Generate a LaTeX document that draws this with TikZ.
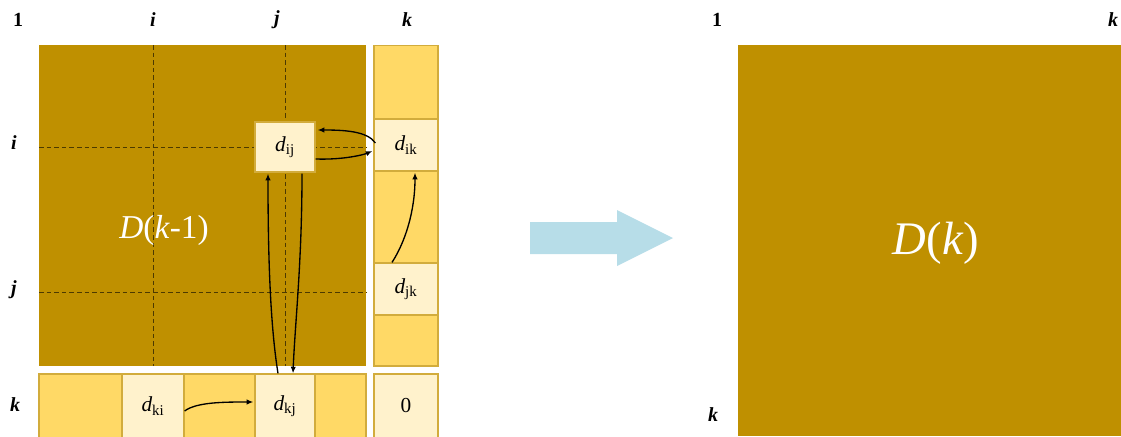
\documentclass[tikz,border=0pt]{standalone}
\usepackage{fontspec}
\setmainfont{Liberation Serif}
\usetikzlibrary{arrows.meta,calc}

\definecolor{darkgold}{RGB}{191,144,0}
\definecolor{lightgold}{RGB}{255,217,102}
\definecolor{creamy}{RGB}{255,242,204}
\definecolor{cellline}{RGB}{210,172,60}
\definecolor{arrowblue}{RGB}{183,221,232}

\begin{document}
\begin{tikzpicture}[x=0.75pt, y=-0.75pt, >={Latex[length=5pt,width=4pt]},
    cell/.style={draw=cellline, line width=0.9pt, fill=lightgold, inner sep=0pt},
    entry/.style={cell, fill=creamy, font=\fontsize{16}{18}\selectfont},
    idx/.style={font=\fontsize{15}{17}\selectfont\bfseries\itshape},
    link/.style={->, line width=1pt, black},
    grid/.style={line width=0.6pt, dash pattern=on 3.5pt off 2.2pt, black!60!darkgold}]
    \clip (0,0) rectangle (1121,436);

    % left: D(k-1) with row and column k
    \fill[darkgold] (39,45) rectangle (366,366);
    \draw[grid] (153,45) -- (153,366);
    \draw[grid] (285,45) -- (285,366);
    \draw[grid] (39,147) -- (366,147);
    \draw[grid] (39,292) -- (366,292);
    \node[text=white, font=\fontsize{25}{29}\selectfont] (dprev) at (164,230) {\textit{D}(\textit{k}-1)};

    \node[entry, minimum width=45pt, minimum height=37.5pt] (dij) at (285,147) {\textit{d}\textsubscript{ij}};

    \node[cell, minimum width=48pt, minimum height=54.75pt] (ck1) at (406,82) {};
    \node[entry, minimum width=48pt, minimum height=39pt] (dik) at (406,145) {\textit{d}\textsubscript{ik}};
    \node[cell, minimum width=48pt, minimum height=69pt] (ck2) at (406,217) {};
    \node[entry, minimum width=48pt, minimum height=39pt] (djk) at (406,289) {\textit{d}\textsubscript{jk}};
    \node[cell, minimum width=48pt, minimum height=38.25pt] (ck3) at (406,340.5) {};

    \node[cell, minimum width=62.25pt, minimum height=48pt] (rk1) at (80.5,406) {};
    \node[entry, minimum width=46.5pt, minimum height=48pt] (dki) at (153,406) {\textit{d}\textsubscript{ki}};
    \node[cell, minimum width=53.25pt, minimum height=48pt] (rk2) at (219.5,406) {};
    \node[entry, minimum width=45pt, minimum height=48pt] (dkj) at (285,406) {\textit{d}\textsubscript{kj}};
    \node[cell, minimum width=38.25pt, minimum height=48pt] (rk3) at (340.5,406) {};
    \node[entry, minimum width=48pt, minimum height=48pt] (dkk) at (406,406) {0};

    \node[idx, font=\fontsize{15}{17}\selectfont\bfseries] (c1) at (18,20) {1};
    \node[idx] (ci) at (153,20) {i};
    \node[idx] (cj) at (277,20) {j};
    \node[idx] (ck) at (407,20) {k};
    \node[idx] (ri) at (14,143) {i};
    \node[idx] (rj) at (14,290) {j};
    \node[idx] (rk) at (15,405) {k};

    \draw[link] ($(dik.west)+(2,-2)$) .. controls ($(dik.west)+(-6,-14)$) and ($(dij.east)+(28,-17)$) .. ($(dij.east)+(2,-17)$);
    \draw[link] ($(dij.east)+(0,12)$) .. controls ($(dij.east)+(30,13)$) and ($(dik.west)+(-8,9)$) .. ($(dik.west)+(-1,6)$);
    \draw[link] ($(dkj.north)+(-7,0)$) .. controls ($(dkj.north)+(-15,-50)$) and ($(dij.south)+(-17,80)$) .. ($(dij.south)+(-17,1)$);
    \draw[link] ($(dij.south)+(17,1)$) .. controls ($(dij.south)+(17,90)$) and ($(dkj.north)+(10,-50)$) .. ($(dkj.north)+(8,0)$);
    \draw[link] ($(djk.north)+(-14,0)$) .. controls ($(djk.north)+(-1,-20)$) and ($(dik.south)+(9,40)$) .. ($(dik.south)+(9,1)$);
    \draw[link] ($(dki.east)+(0,5)$) .. controls ($(dki.east)+(12,-4)$) and ($(dkj.west)+(-30,-4)$) .. ($(dkj.west)+(-1,-4)$);

    % step arrow
    \fill[arrowblue] (530,222) -- (617,222) -- (617,210) -- (673,238) -- (617,266) -- (617,254) -- (530,254) -- cycle;

    % right: D(k)
    \fill[darkgold] (738,45) rectangle (1121,436);
    \node[text=white, font=\fontsize{35}{40}\selectfont] (dnext) at (936,243) {\textit{D}(\textit{k})};
    \node[idx, font=\fontsize{15}{17}\selectfont\bfseries] (n1) at (717,20) {1};
    \node[idx] (nk) at (1113,20) {k};
    \node[idx] (mk) at (713,415) {k};
\end{tikzpicture}
\end{document}
